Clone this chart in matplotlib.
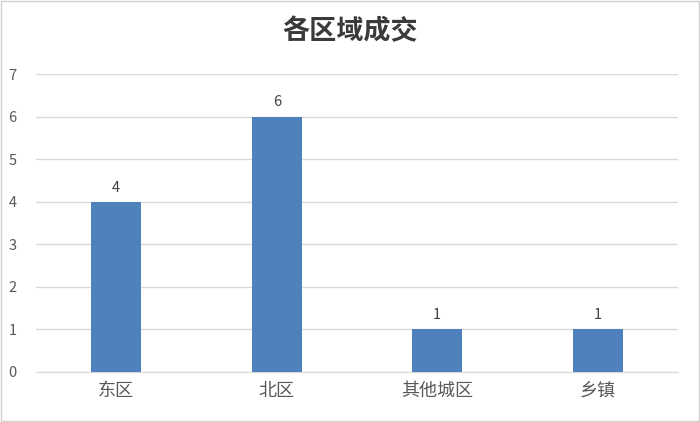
import matplotlib
matplotlib.use("Agg")
import matplotlib.pyplot as plt
from matplotlib.patches import Rectangle

plt.rcParams['font.family'] = ['Noto Sans CJK SC', 'DejaVu Sans']

categories = ["东区", "北区", "其他城区", "乡镇"]
values = [4, 6, 1, 1]
yticks = [0, 1, 2, 3, 4, 5, 6, 7]
title = "各区域成交"

fig = plt.figure(figsize=(7, 4.22), dpi=100)
ax = fig.add_axes([0.0514, 0.1185, 0.917, 0.706])

x = list(range(len(categories)))
bars = ax.bar(x, values, width=0.31, color="#4F81BD", zorder=3)
for xi, v in zip(x, values):
    ax.text(xi, v + 0.17, str(v), ha="center", va="bottom", fontsize=10.5, color="#404040")

ax.set_xlim(-0.5, len(categories) - 0.5)
ax.set_ylim(0, 7)
ax.set_yticks(yticks)
ax.set_yticklabels([str(t) for t in yticks], fontsize=10.5, color="#595959")
ax.set_xticks(x)
ax.set_xticklabels(categories, fontsize=13, color="#595959")
ax.tick_params(axis="both", length=0)
ax.tick_params(axis="y", pad=14)
ax.tick_params(axis="x", pad=7)
ax.grid(axis="y", color="#D9D9D9", linewidth=1, zorder=0)
for s in ["top", "right", "left"]:
    ax.spines[s].set_visible(False)
ax.spines["bottom"].set_color("#D9D9D9")

fig.text(0.5, 0.925, title, ha="center", va="center", fontsize=19.5, color="#3A3A3A", fontweight="bold")
fig.patches.append(Rectangle((0.002, 0.003), 0.996, 0.994, transform=fig.transFigure,
                             fill=False, edgecolor="#D0D0D0", linewidth=1))

fig.savefig("out.png", dpi=100, facecolor="white")
